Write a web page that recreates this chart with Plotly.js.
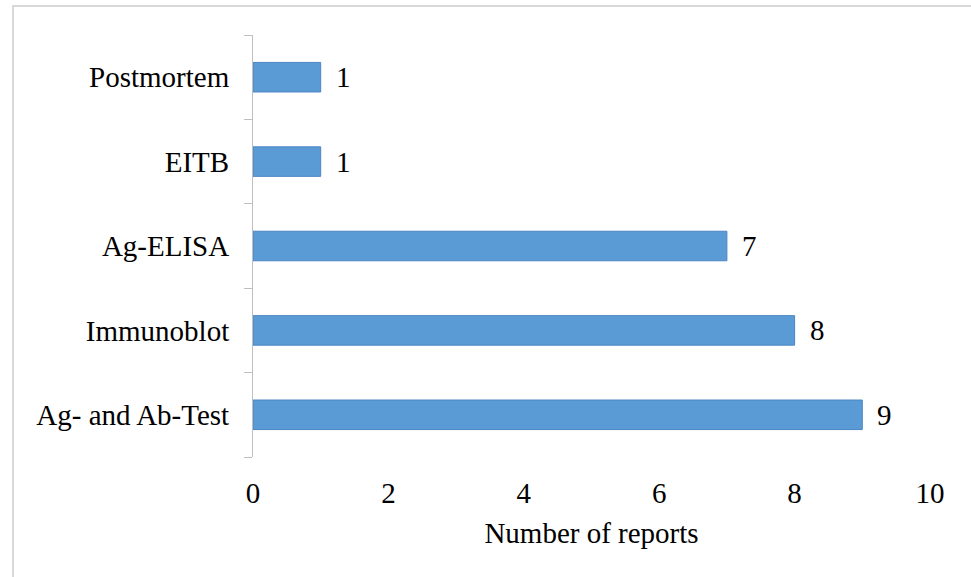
<!DOCTYPE html>
<html>
<head>
<meta charset="utf-8">
<script src="https://cdn.plot.ly/plotly-3.0.1.min.js"></script>
<style>
  html, body { margin: 0; padding: 0; background: #ffffff; }
  #wrap { position: relative; width: 971px; height: 577px; overflow: hidden; }
  #frame {
    position: absolute; left: 12px; top: 5px; width: 970px; height: 600px;
    border: 2px solid #d9d9d9; box-sizing: border-box; pointer-events: none;
  }
  #chart { position: absolute; left: 0; top: 0; width: 971px; height: 577px; }
</style>
</head>
<body>
<div id="wrap">
  <div id="chart"></div>
  <div id="frame"></div>
</div>
<script>
// Diagnostic methods and how many reports used each
const methods = ["Ag- and Ab-Test", "Immunoblot", "Ag-ELISA", "EITB", "Postmortem"];
const reports = [9, 8, 7, 1, 1];
const xTicks = [0, 2, 4, 6, 8, 10];
const xTitle = "Number of reports";

const serif = '"Liberation Serif", "Times New Roman", Times, serif';
const fontSize = 29;

const trace = {
  type: "bar",
  orientation: "h",
  y: methods,
  x: reports,
  marker: { color: "#5b9bd5", line: { color: "#4a86c4", width: 1 } },
  hoverinfo: "skip"
};

// value labels just past the end of each bar
const valueLabels = methods.map((m, i) => ({
  x: reports[i], y: m, xref: "x", yref: "y",
  text: String(reports[i]), showarrow: false,
  xanchor: "left", yanchor: "middle", xshift: 13,
  font: { family: serif, size: fontSize, color: "#000000" }
}));

const layout = {
  width: 971, height: 577,
  margin: { l: 253, r: 41, t: 35, b: 120 },
  paper_bgcolor: "#ffffff", plot_bgcolor: "#ffffff",
  font: { family: serif, size: fontSize, color: "#000000" },
  showlegend: false,
  bargap: 0.65,
  xaxis: {
    range: [0, 10],
    tickvals: xTicks,
    ticktext: xTicks.map(String),
    showgrid: false, zeroline: false, showline: false, ticks: "",
    ticklabelstandoff: 16,
    title: { text: xTitle, font: { family: serif, size: fontSize }, standoff: 14 }
  },
  yaxis: {
    type: "category",
    showgrid: false, zeroline: false,
    showline: true, linecolor: "#bfbfbf", linewidth: 1,
    ticks: "outside", tickson: "boundaries", ticklen: 8, tickcolor: "#bfbfbf", tickwidth: 1,
    ticklabelstandoff: 17
  },
  annotations: valueLabels
};

Plotly.newPlot("chart", [trace], layout, { displayModeBar: false, staticPlot: true });
</script>
</body>
</html>
